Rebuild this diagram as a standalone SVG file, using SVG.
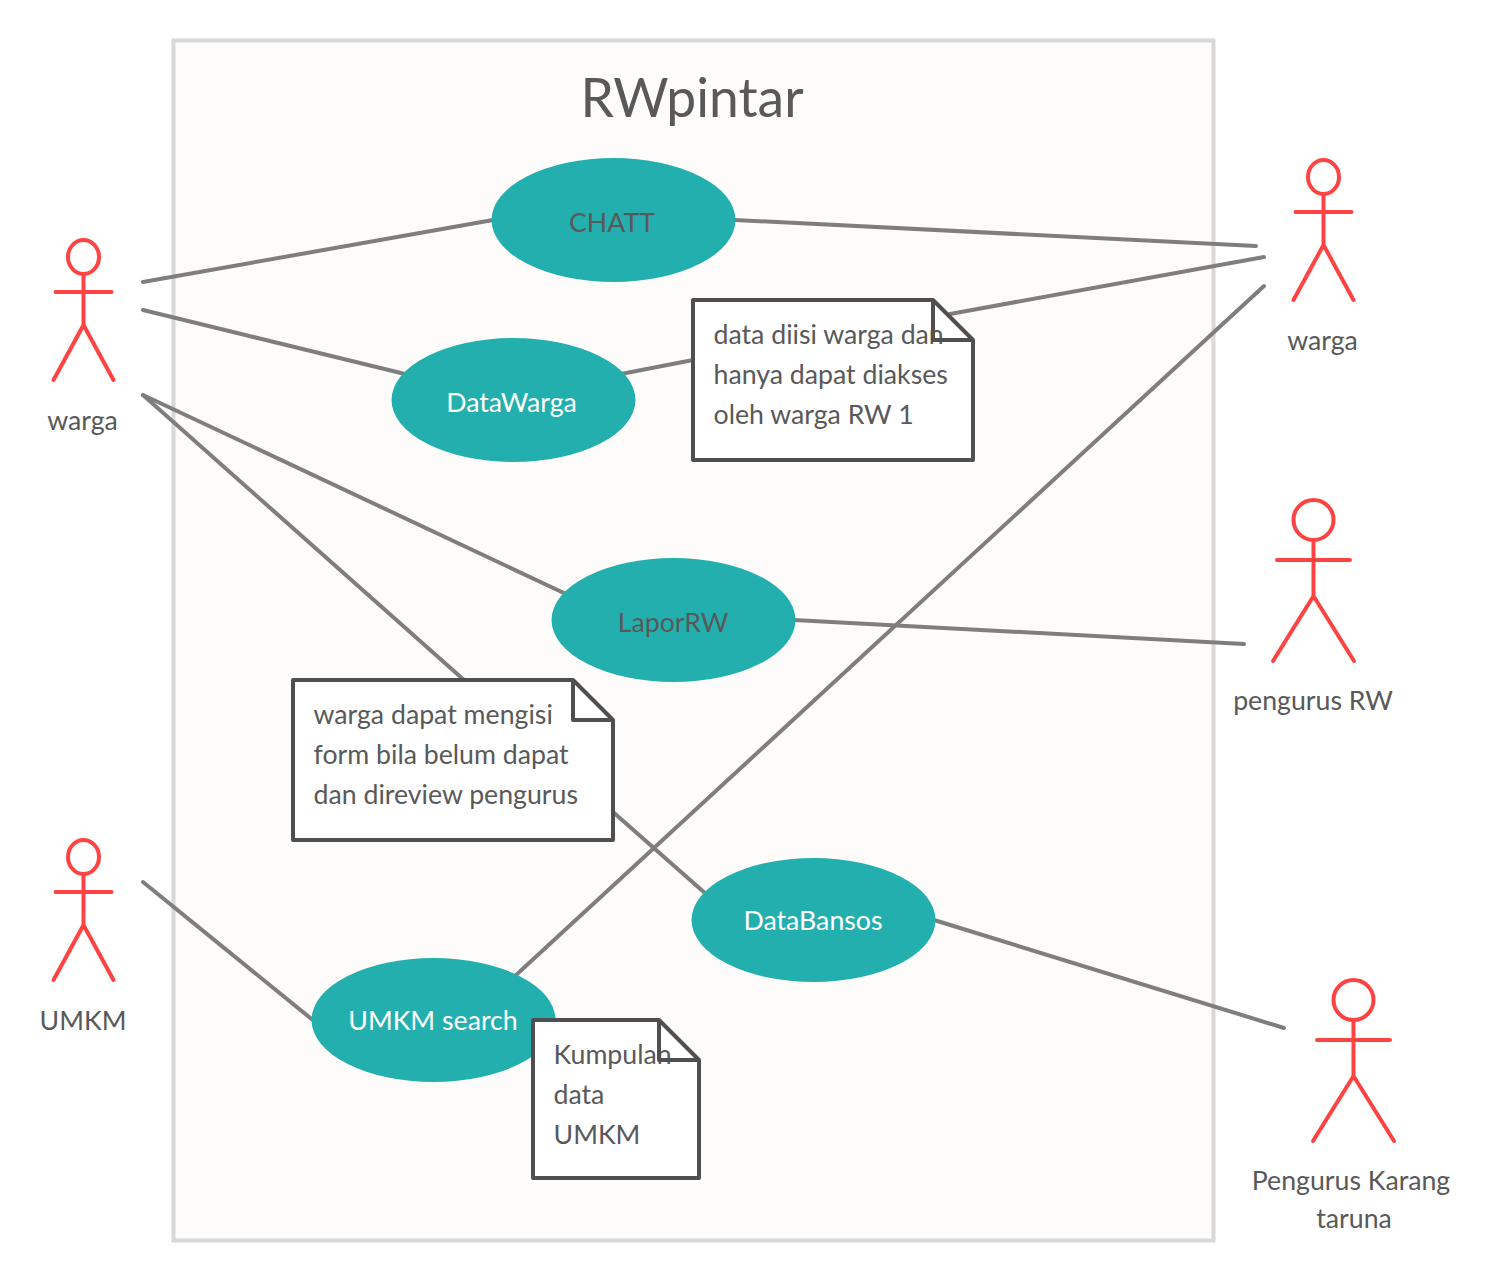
<svg xmlns="http://www.w3.org/2000/svg" width="1497" height="1281" viewBox="0 0 1497 1281">
<style>
text{font-family:Lato,"Open Sans",sans-serif;font-size:26.700px;fill:#595959}
.m{text-anchor:middle}
.w{fill:#fff}
.e{fill:#24afaf}
.c{fill:none;stroke:#807e7c;stroke-width:4;stroke-linecap:round}
.a{fill:none;stroke:#ff4343;stroke-width:4;stroke-linecap:round}
.n{fill:#fff;stroke:#4f4f4f;stroke-width:4;stroke-linejoin:round}
</style>
<defs>
<g id="small" class="a"><ellipse cx="0" cy="-24" rx="15.500" ry="17"/><path d="M0-7V44M-28 11H28M0 44L-30 99M0 44L30 99"/></g>
</defs>
<rect x="0" y="0" width="1497" height="1281" fill="#fff"/>
<g id="boundary"><rect x="173.500" y="40.500" width="1040" height="1200" fill="#fdfcfa" stroke="#d8d8d8" stroke-width="4"/><text x="692" y="117" class="m" style="font-size:53.400px">RWpintar</text></g>
<g id="connectors" class="c">
<path d="M143 282L493 220"/><path d="M735 220L1256 246"/>
<path d="M143 310L405 374"/><path d="M621 374L693 360"/><path d="M950 314L1264 257"/>
<path d="M143 395L566 594"/><path d="M794 620L1244 644"/>
<path d="M143 395L464 680"/><path d="M613 812L706 894"/><path d="M934 920L1284 1028"/>
<path d="M143 882L314 1021"/><path d="M515 976L1264 286"/>
</g>
<g id="chatt"><ellipse class="e" cx="613.500" cy="220" rx="122" ry="62"/><text x="612" y="232" class="m">CHATT</text></g>
<g id="datawarga"><ellipse class="e" cx="513.500" cy="400" rx="122" ry="62"/><text x="511.500" y="412" class="m w">DataWarga</text></g>
<g id="laporrw"><ellipse class="e" cx="673.500" cy="620" rx="122" ry="62"/><text x="673" y="632" class="m">LaporRW</text></g>
<g id="databansos"><ellipse class="e" cx="813.500" cy="920" rx="122" ry="62"/><text x="813" y="930" class="m w">DataBansos</text></g>
<g id="umkmsearch"><ellipse class="e" cx="433.500" cy="1020" rx="122" ry="62"/><text x="433" y="1030" class="m w">UMKM search</text></g>
<g id="note1"><path class="n" d="M693 300H933L973 340V460H693Z"/><text x="713.500" y="344">data diisi warga dan</text><text x="713.500" y="384">hanya dapat diakses</text><text x="713.500" y="424">oleh warga RW 1</text><path class="n" d="M933 300V340H973" style="fill:none"/></g>
<g id="note2"><path class="n" d="M293 680H573L613 720V840H293Z"/><path class="n" d="M573 680V720H613" style="fill:none"/><text x="313.500" y="724">warga dapat mengisi</text><text x="313.500" y="764">form bila belum dapat</text><text x="313.500" y="804">dan direview pengurus</text></g>
<g id="note3"><path class="n" d="M533 1020H659L699 1060V1178H533Z"/><text x="553.500" y="1064">Kumpulan</text><text x="553.500" y="1104">data</text><text x="553.500" y="1144">UMKM</text><path class="n" d="M659 1020V1060H699" style="fill:none"/></g>
<g id="actor-warga-left"><use href="#small" x="83.500" y="281"/><text x="82.500" y="430" class="m">warga</text></g>
<g id="actor-umkm"><use href="#small" x="83.500" y="881"/><text x="83" y="1030" class="m">UMKM</text></g>
<g id="actor-warga-right"><use href="#small" x="1323.500" y="201"/><text x="1322.500" y="350" class="m">warga</text></g>
<g id="actor-pengurus-rw" class="a"><circle cx="1313.500" cy="520" r="20"/><path d="M1313.500 540V596M1277 560H1350M1313.500 596L1273 661M1313.500 596L1354 661"/><text x="1313" y="710" class="m" stroke="none">pengurus RW</text></g>
<g id="actor-karang" class="a"><circle cx="1353.500" cy="1000" r="20"/><path d="M1353.500 1020V1076M1317 1040H1390M1353.500 1076L1313 1141M1353.500 1076L1394 1141"/><text x="1351" y="1190" class="m" stroke="none">Pengurus Karang</text><text x="1354" y="1228" class="m" stroke="none">taruna</text></g>
</svg>
